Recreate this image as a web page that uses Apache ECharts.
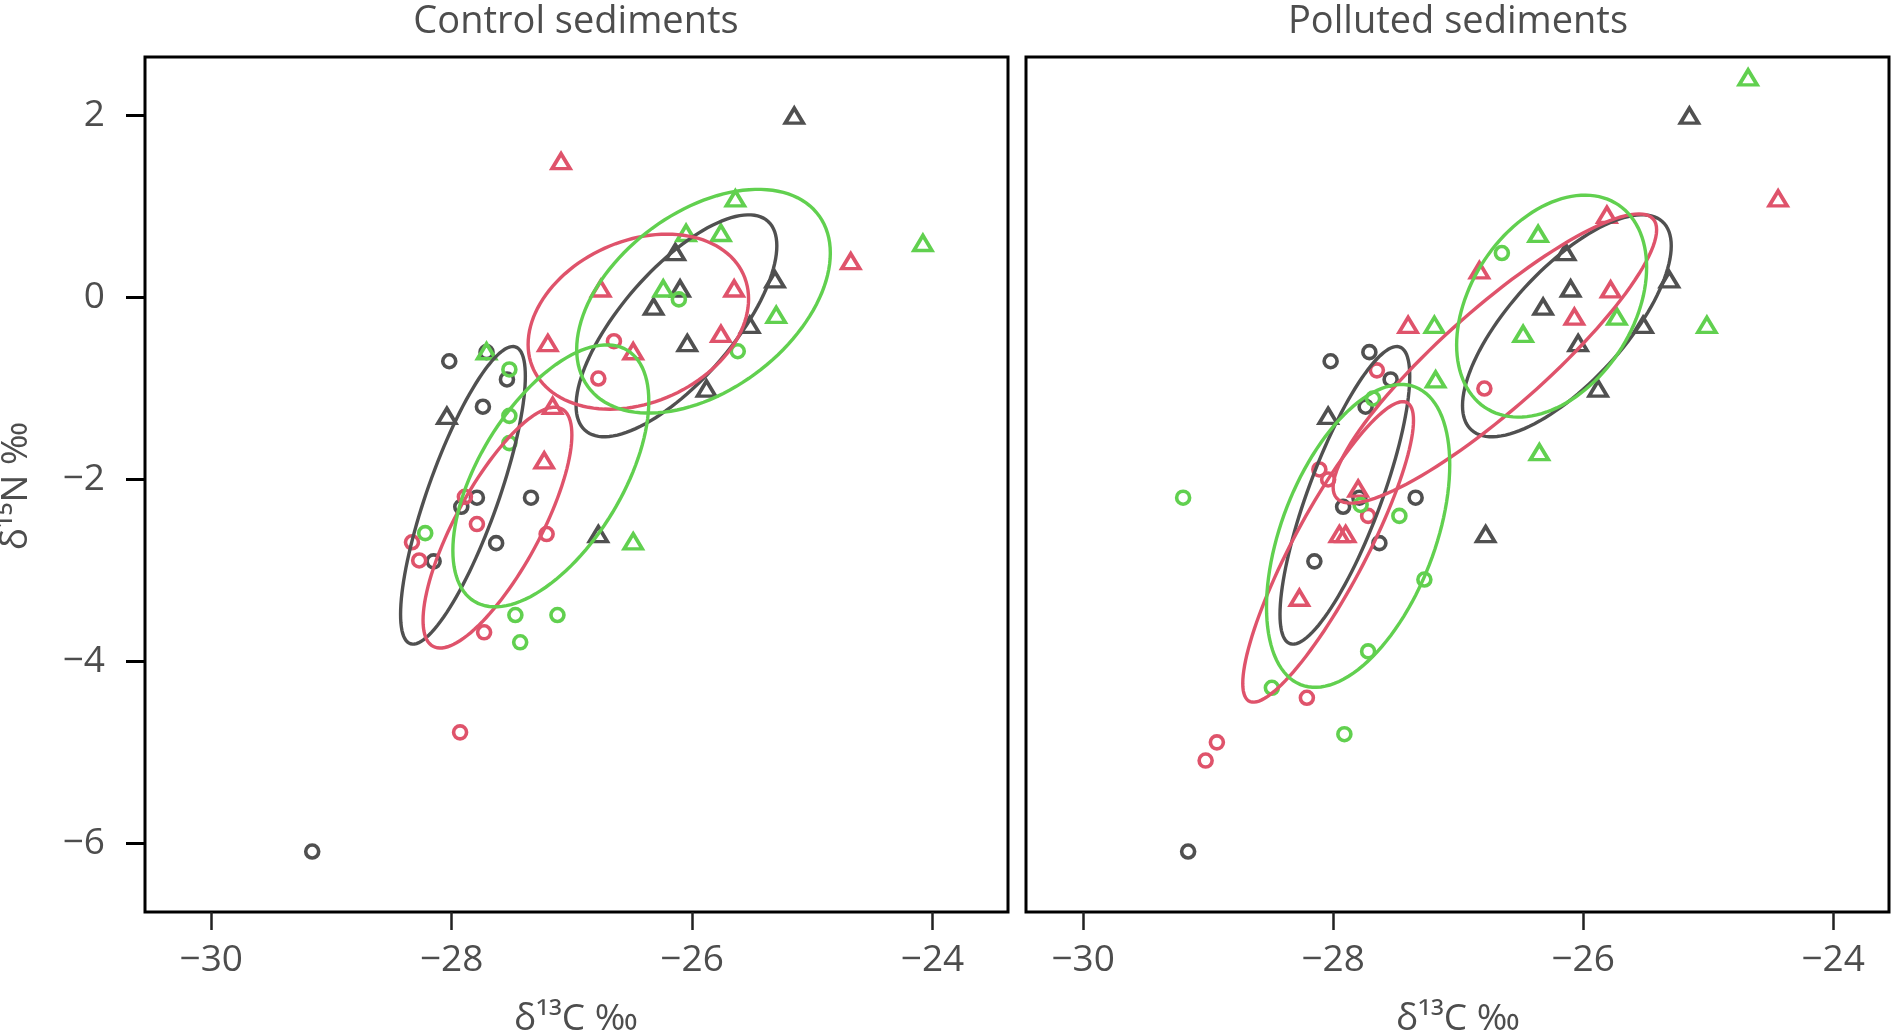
<!DOCTYPE html>
<html>
<head>
<meta charset="utf-8">
<title>Control vs polluted sediments</title>
<script src="https://cdn.jsdelivr.net/npm/echarts@6/dist/echarts.min.js"></script>
<style>
  html, body { margin: 0; padding: 0; background: #fff; }
  #main { width: 1892px; height: 1033px; }
</style>
</head>
<body>
<div id="main"></div>
<script>
// points [d13C, d15N]; the grey group is the same in both panels
var greyCircles = [[-28.02,-0.70],[-27.71,-0.60],[-27.54,-0.90],[-27.74,-1.20],[-27.79,-2.20],
  [-27.92,-2.30],[-27.34,-2.20],[-27.63,-2.70],[-28.15,-2.90],[-29.16,-6.09]];
var greyTriangles = [[-28.04,-1.30],[-26.78,-2.60],[-26.32,-0.10],[-26.04,-0.50],[-25.88,-1.00],
  [-26.14,0.50],[-26.10,0.10],[-25.31,0.20],[-25.52,-0.30],[-25.15,2.00]];

// Control sediments
var ctrlPinkCircles = [[-26.65,-0.48],[-26.78,-0.89],[-27.89,-2.19],[-27.79,-2.49],[-27.21,-2.60],
  [-28.33,-2.69],[-28.27,-2.89],[-27.73,-3.68],[-27.93,-4.78]];
var ctrlPinkTriangles = [[-27.09,1.50],[-24.68,0.40],[-26.76,0.10],[-25.65,0.10],[-27.20,-0.50],
  [-26.49,-0.59],[-25.76,-0.40],[-27.16,-1.19],[-27.23,-1.79]];
var ctrlGreenCircles = [[-27.52,-0.79],[-27.52,-1.30],[-27.52,-1.60],[-28.22,-2.59],[-27.47,-3.49],
  [-27.12,-3.49],[-27.43,-3.79],[-26.11,-0.02],[-25.62,-0.59]];
var ctrlGreenTriangles = [[-25.64,1.09],[-24.08,0.60],[-26.05,0.71],[-25.76,0.71],[-26.24,0.10],
  [-25.30,-0.19],[-27.71,-0.59],[-26.49,-2.68]];

// Polluted sediments
var polPinkCircles = [[-27.65,-0.80],[-28.11,-1.89],[-28.04,-2.00],[-27.72,-2.40],[-28.21,-4.40],
  [-26.79,-1.00],[-28.93,-4.89],[-29.02,-5.09]];
var polPinkTriangles = [[-24.44,1.09],[-25.81,0.91],[-26.83,0.30],[-25.78,0.09],[-26.07,-0.21],
  [-27.40,-0.30],[-27.80,-2.10],[-27.95,-2.60],[-27.90,-2.60],[-28.27,-3.30]];
var polGreenCircles = [[-29.20,-2.20],[-27.68,-1.11],[-27.78,-2.28],[-27.47,-2.40],[-27.27,-3.10],
  [-27.72,-3.89],[-28.49,-4.29],[-27.91,-4.80],[-26.65,0.49]];
var polGreenTriangles = [[-24.68,2.42],[-26.36,0.70],[-27.19,-0.30],[-26.48,-0.40],[-25.73,-0.21],
  [-25.01,-0.30],[-27.18,-0.90],[-26.35,-1.70]];

// ellipses [centre x, centre y, half width, half height, correlation]
var greyCircleEllipse = [-27.906, -2.174, 0.519, 1.636, 0.80];
var greyTriangleEllipse = [-26.13, -0.31, 0.835, 1.22, 0.72];
var ctrlPinkCircleEllipse = [-27.619, -2.529, 0.619, 1.324, 0.77];
var ctrlPinkTriangleEllipse = [-26.447, -0.265, 0.917, 0.962, 0.26];
var ctrlGreenCircleEllipse = [-27.175, -1.96, 0.815, 1.44, 0.57];
var ctrlGreenTriangleEllipse = [-25.905, -0.04, 1.055, 1.23, 0.43];
var polPinkCircleEllipse = [-28.04, -2.796, 0.683, 1.652, 0.875];
var polPinkTriangleEllipse = [-26.706, -0.67, 1.294, 1.59, 0.89];
var polGreenCircleEllipse = [-27.80, -2.62, 0.733, 1.665, 0.47];
var polGreenTriangleEllipse = [-26.252, -0.094, 0.76, 1.22, 0.35];

var xTicks = [-30, -28, -26, -24];
var yTicks = [-6, -4, -2, 0, 2];

var GREY = '#505050', PINK = '#DF536B', GREEN = '#61D04F';
var TXT = '#4d4d4d';
var FONT = '"Open Sans", "DejaVu Sans", sans-serif';

function minus(v) { return String(v).replace('-', '\u2212'); }

function pts(name, data, color, shape, idx) {
  return {
    name: name, type: 'scatter', xAxisIndex: idx, yAxisIndex: idx,
    data: data,
    symbol: shape,
    symbolSize: shape == 'circle' ? 13 : [18, 15],
    itemStyle: { color: 'rgba(0,0,0,0)', borderColor: color, borderWidth: 3.6, opacity: 1 },
    emphasis: { disabled: true },
    z: 2
  };
}

function ell(name, e, color, idx) {
  return {
    name: name, type: 'custom', xAxisIndex: idx, yAxisIndex: idx,
    data: [e],
    encode: { x: 0, y: 1 },
    renderItem: function (params, api) {
      var cx = api.value(0), cy = api.value(1), rx = api.value(2), ry = api.value(3), r = api.value(4);
      var s = Math.sqrt(1 - r * r), points = [];
      for (var i = 0; i < 120; i++) {
        var t = i / 120 * Math.PI * 2;
        points.push(api.coord([cx + rx * Math.cos(t), cy + ry * (r * Math.cos(t) + s * Math.sin(t))]));
      }
      return { type: 'polygon', shape: { points: points },
               style: { fill: 'none', stroke: color, lineWidth: 3.4 } };
    },
    silent: true,
    z: 3
  };
}

function xAxis(idx, min, max) {
  return {
    type: 'value', gridIndex: idx, min: min, max: max,
    axisLine: { show: false, onZero: false },
    splitLine: { show: false },
    axisTick: { show: true, customValues: xTicks, length: 18, lineStyle: { color: '#222', width: 2.5 } },
    axisLabel: { show: true, customValues: xTicks, margin: 30, color: TXT,
                 fontFamily: FONT, fontSize: 37, formatter: minus }
  };
}

function yAxis(idx, labels) {
  return {
    type: 'value', gridIndex: idx, min: -6.755, max: 2.645,
    axisLine: { show: false, onZero: false },
    splitLine: { show: false },
    axisTick: { show: labels, customValues: yTicks, length: 19, lineStyle: { color: '#000', width: 3 } },
    axisLabel: { show: labels, customValues: yTicks, margin: 40, color: TXT,
                 fontFamily: FONT, fontSize: 37, formatter: minus }
  };
}

var myChart = echarts.init(document.getElementById('main'));
var option = {
  backgroundColor: '#fff',
  animation: false,
  grid: [
    { left: 145, top: 57, width: 863, height: 855, show: true, borderColor: '#000', borderWidth: 3 },
    { left: 1026, top: 57, width: 863, height: 855, show: true, borderColor: '#000', borderWidth: 3 }
  ],
  xAxis: [xAxis(0, -30.551, -23.372), xAxis(1, -30.457, -23.553)],
  yAxis: [yAxis(0, true), yAxis(1, false)],
  graphic: [
    { type: 'text', x: 576, y: 22, style: { text: 'Control sediments', font: '38px ' + FONT, fill: TXT, textAlign: 'center', textVerticalAlign: 'middle' } },
    { type: 'text', x: 1458, y: 22, style: { text: 'Polluted sediments', font: '38px ' + FONT, fill: TXT, textAlign: 'center', textVerticalAlign: 'middle' } },
    { type: 'text', x: 576, y: 1019, style: { text: '\u03b4\u00b9\u00b3C \u2030', font: '37px ' + FONT, fill: TXT, textAlign: 'center', textVerticalAlign: 'middle' } },
    { type: 'text', x: 1458, y: 1019, style: { text: '\u03b4\u00b9\u00b3C \u2030', font: '37px ' + FONT, fill: TXT, textAlign: 'center', textVerticalAlign: 'middle' } },
    { type: 'text', x: 16, y: 486, rotation: Math.PI / 2, style: { text: '\u03b4\u00b9\u2075N \u2030', font: '37px ' + FONT, fill: TXT, textAlign: 'center', textVerticalAlign: 'middle' } }
  ],
  series: [
    pts('grey circles', greyCircles, GREY, 'circle', 0),
    pts('grey triangles', greyTriangles, GREY, 'triangle', 0),
    pts('pink circles', ctrlPinkCircles, PINK, 'circle', 0),
    pts('pink triangles', ctrlPinkTriangles, PINK, 'triangle', 0),
    pts('green circles', ctrlGreenCircles, GREEN, 'circle', 0),
    pts('green triangles', ctrlGreenTriangles, GREEN, 'triangle', 0),
    ell('grey circle ellipse', greyCircleEllipse, GREY, 0),
    ell('grey triangle ellipse', greyTriangleEllipse, GREY, 0),
    ell('pink circle ellipse', ctrlPinkCircleEllipse, PINK, 0),
    ell('pink triangle ellipse', ctrlPinkTriangleEllipse, PINK, 0),
    ell('green circle ellipse', ctrlGreenCircleEllipse, GREEN, 0),
    ell('green triangle ellipse', ctrlGreenTriangleEllipse, GREEN, 0),

    pts('grey circles', greyCircles, GREY, 'circle', 1),
    pts('grey triangles', greyTriangles, GREY, 'triangle', 1),
    pts('pink circles', polPinkCircles, PINK, 'circle', 1),
    pts('pink triangles', polPinkTriangles, PINK, 'triangle', 1),
    pts('green circles', polGreenCircles, GREEN, 'circle', 1),
    pts('green triangles', polGreenTriangles, GREEN, 'triangle', 1),
    ell('grey circle ellipse', greyCircleEllipse, GREY, 1),
    ell('grey triangle ellipse', greyTriangleEllipse, GREY, 1),
    ell('pink circle ellipse', polPinkCircleEllipse, PINK, 1),
    ell('pink triangle ellipse', polPinkTriangleEllipse, PINK, 1),
    ell('green circle ellipse', polGreenCircleEllipse, GREEN, 1),
    ell('green triangle ellipse', polGreenTriangleEllipse, GREEN, 1)
  ]
};
myChart.setOption(option);
</script>
</body>
</html>
